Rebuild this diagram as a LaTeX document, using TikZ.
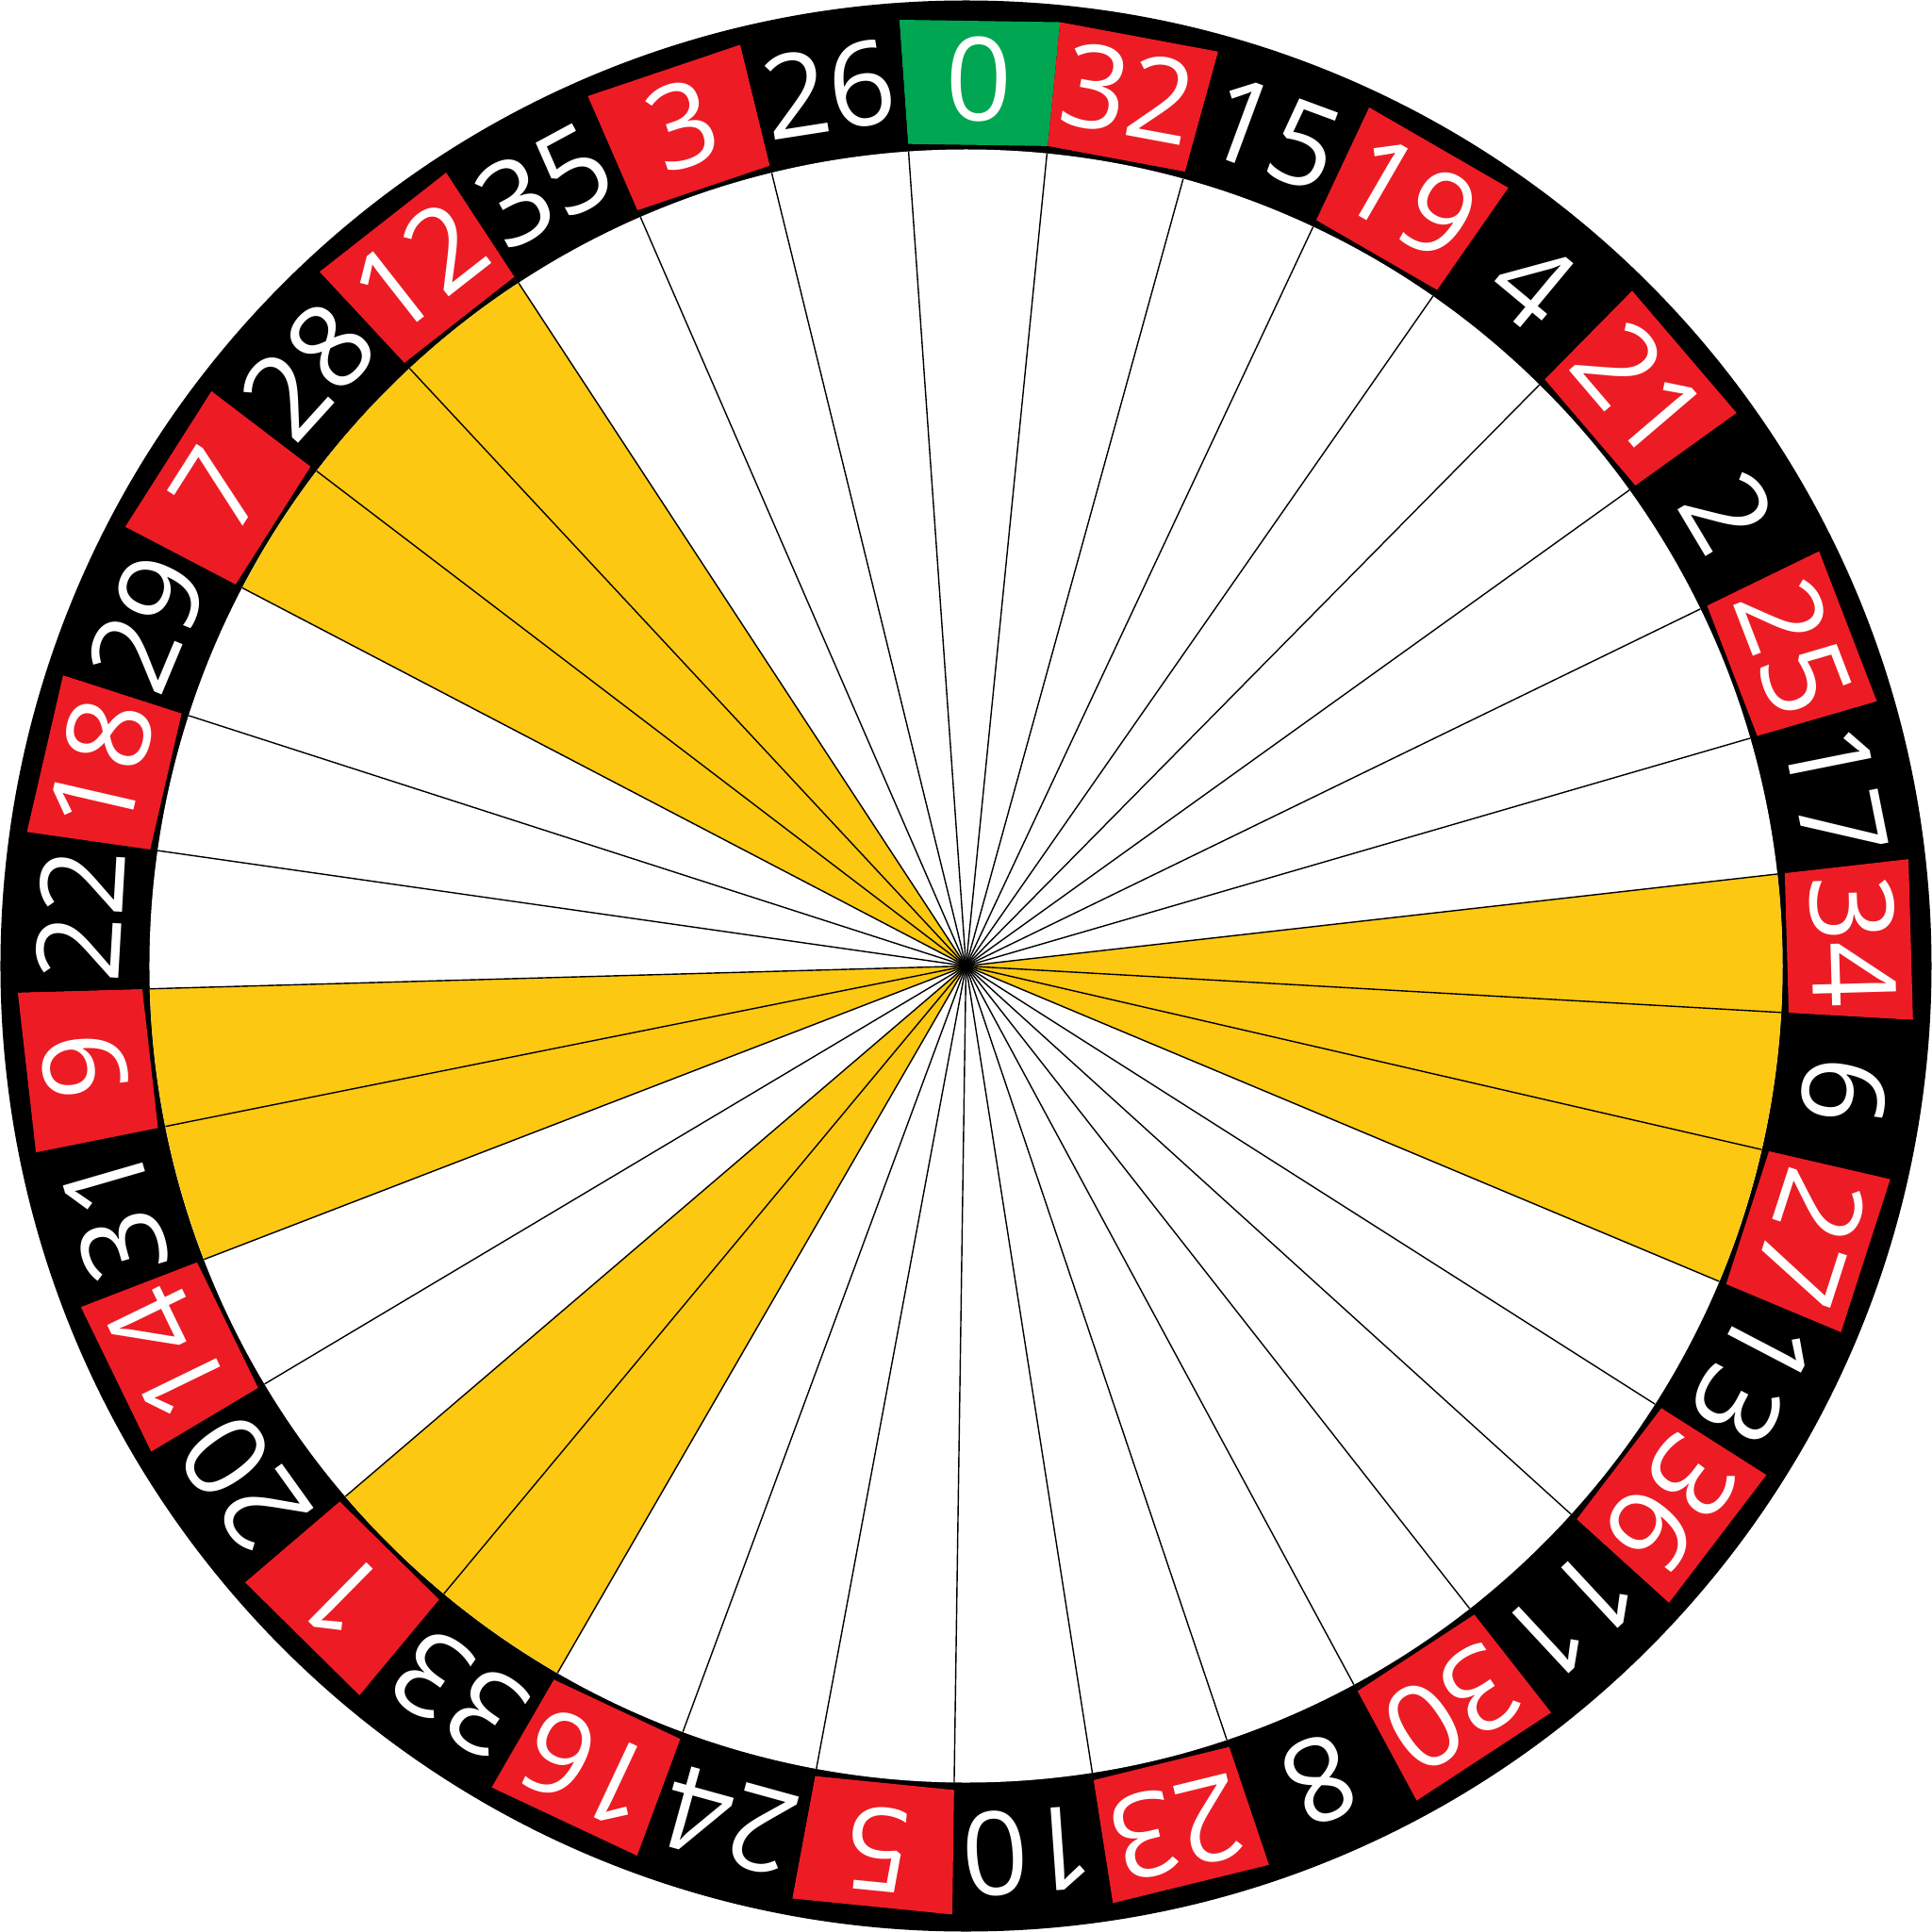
\documentclass[tikz,border=0pt]{standalone}
\usepackage{fontspec}
\setmainfont{Open Sans}
\usepackage{xcolor}
\usepackage{tikz}
\definecolor{rojo}{HTML}{ED1C24}
\definecolor{verde}{HTML}{00A651}
\definecolor{amarillo}{HTML}{FCC812}
\definecolor{tinta}{HTML}{000000}

\begin{document}
\begin{tikzpicture}[
  radio/.style={draw=tinta,line width=0.4pt},
  num/.style={text=white,inner sep=0pt,font=\fontsize{35}{35}\selectfont}]
\useasboundingbox (-10.245,-10.245) rectangle (10.245,10.245);
\coordinate (centro) at (0,0);
\fill[tinta] (centro) circle (10.24);
\foreach \n/\c [count=\i from 0] in {0/verde,32/rojo,15/tinta,19/rojo,4/tinta,21/rojo,2/tinta,25/rojo,17/tinta,34/rojo,6/tinta,27/rojo,13/tinta,36/rojo,11/tinta,30/rojo,8/tinta,23/rojo,10/tinta,5/rojo,24/tinta,16/rojo,33/tinta,1/rojo,20/tinta,14/rojo,31/tinta,9/rojo,22/tinta,18/rojo,29/tinta,7/rojo,28/tinta,12/rojo,35/tinta,3/rojo,26/tinta}{
  \pgfmathsetmacro{\a}{89.17-\i*360/37}
  \fill[\c] (\a+4.865:8.74) -- (\a+4.865:10.06) -- (\a-4.865:10.06) -- (\a-4.865:8.74) -- cycle;
  \node[num,rotate=\a-90] (n\n) at (\a:9.41) {\n};
}
\fill[white] (centro) circle (8.66);
\foreach \i in {9,10,11,22,23,26,27,31,32,33}
  \fill[amarillo] (centro) -- (89.17+4.865-\i*360/37:8.66) arc[start angle=89.17+4.865-\i*360/37, end angle=89.17-4.865-\i*360/37, radius=8.66] -- cycle;
\foreach \i in {0,...,36}
  \draw[radio] (centro) -- (89.17+4.865-\i*360/37:8.66);
\end{tikzpicture}
\end{document}
